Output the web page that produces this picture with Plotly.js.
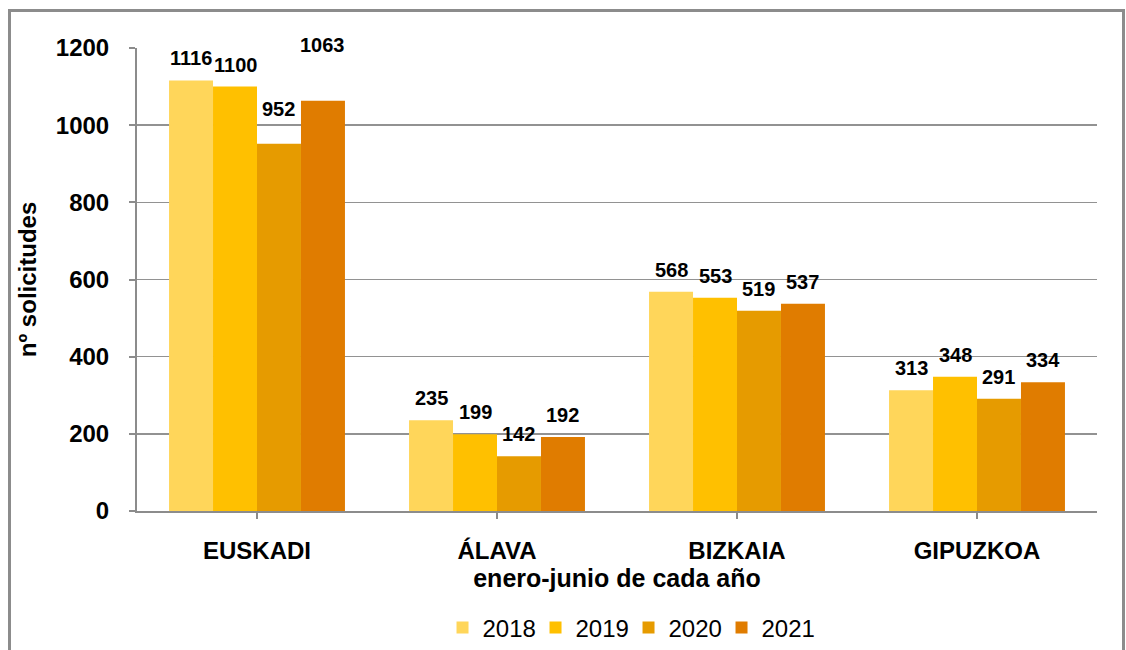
<!DOCTYPE html>
<html><head><meta charset="utf-8">
<script src="https://cdn.plot.ly/plotly-3.0.1.min.js"></script>
<style>
html,body{margin:0;padding:0;overflow:hidden;background:#fff}
#frame{position:absolute;left:8px;top:9px;width:1111px;height:700px;border:3px solid #8c8c8c;pointer-events:none}
#chart{width:1126px;height:650px}
</style></head>
<body>
<div id="chart"></div>
<div id="frame"></div>
<script>
const categories = ["EUSKADI", "ÁLAVA", "BIZKAIA", "GIPUZKOA"];
const years = ["2018", "2019", "2020", "2021"];
const v2018 = [1116, 235, 568, 313];
const v2019 = [1100, 199, 553, 348];
const v2020 = [952, 142, 519, 291];
const v2021 = [1063, 192, 537, 334];
const colors = ["#FFD65A", "#FFC000", "#E69B00", "#E07C00"];

const series = [v2018, v2019, v2020, v2021];
const bargap = 0.267;
const barW = (1 - bargap) / 4;
const extraShift = {"2-0": 13, "3-0": 34};
const FONT = "Liberation Sans, Arial, sans-serif";

const traces = series.map((vals, i) => ({
  type: "bar",
  name: years[i],
  x: categories.map((c, k) => k),
  y: vals,
  marker: {color: colors[i]},
  hoverinfo: "y"
}));

const annotations = [];
series.forEach((vals, i) => {
  vals.forEach((v, k) => {
    annotations.push({
      x: k + (i - 1.5) * barW,
      y: v,
      xref: "x", yref: "y",
      text: String(v),
      showarrow: false,
      yanchor: "middle",
      yshift: 22 + (extraShift[i + "-" + k] || 0),
      font: {family: FONT, size: 20, color: "#000", weight: "bold"}
    });
  });
});

const layout = {
  width: 1126, height: 650,
  margin: {l: 137, r: 29, t: 48, b: 139},
  barmode: "group",
  bargap: bargap,
  bargroupgap: 0,
  paper_bgcolor: "#fff",
  plot_bgcolor: "#fff",
  font: {family: FONT, color: "#000"},
  xaxis: {
    automargin: false,
    tickmode: "array",
    tickvals: [0, 1, 2, 3],
    ticktext: categories,
    range: [-0.5, 3.5],
    tickfont: {size: 24, weight: "bold"},
    showline: true, linecolor: "#8c8c8c", linewidth: 2,
    ticks: "outside", ticklen: 6, tickcolor: "#8c8c8c", tickwidth: 2,
    tickson: "boundaries",
    ticklabelstandoff: 11,
    showgrid: false, zeroline: false,
    title: {text: "enero-junio de cada año", font: {size: 25, weight: "bold"}, standoff: 5}
  },
  yaxis: {
    automargin: false,
    range: [0, 1200],
    tickvals: [0, 200, 400, 600, 800, 1000, 1200],
    tickfont: {size: 24, weight: "bold"},
    showline: true, linecolor: "#8c8c8c", linewidth: 2,
    ticks: "outside", ticklen: 6, tickcolor: "#8c8c8c", tickwidth: 2,
    ticklabelstandoff: 15,
    gridcolor: "#929292", gridwidth: 1.5,
    zeroline: false,
    title: {text: "nº solicitudes", font: {size: 24, weight: "bold"}, standoff: 12}
  },
  showlegend: true,
  legend: {
    orientation: "h",
    x: 0.512, xanchor: "center",
    xref: "paper",
    yref: "container",
    y: 0.034, yanchor: "middle",
    font: {size: 24},
    entrywidth: 48,
    traceorder: "normal"
  },
  annotations: annotations
};

Plotly.newPlot("chart", traces, layout, {displayModeBar: false, staticPlot: true});
</script>
</body></html>
